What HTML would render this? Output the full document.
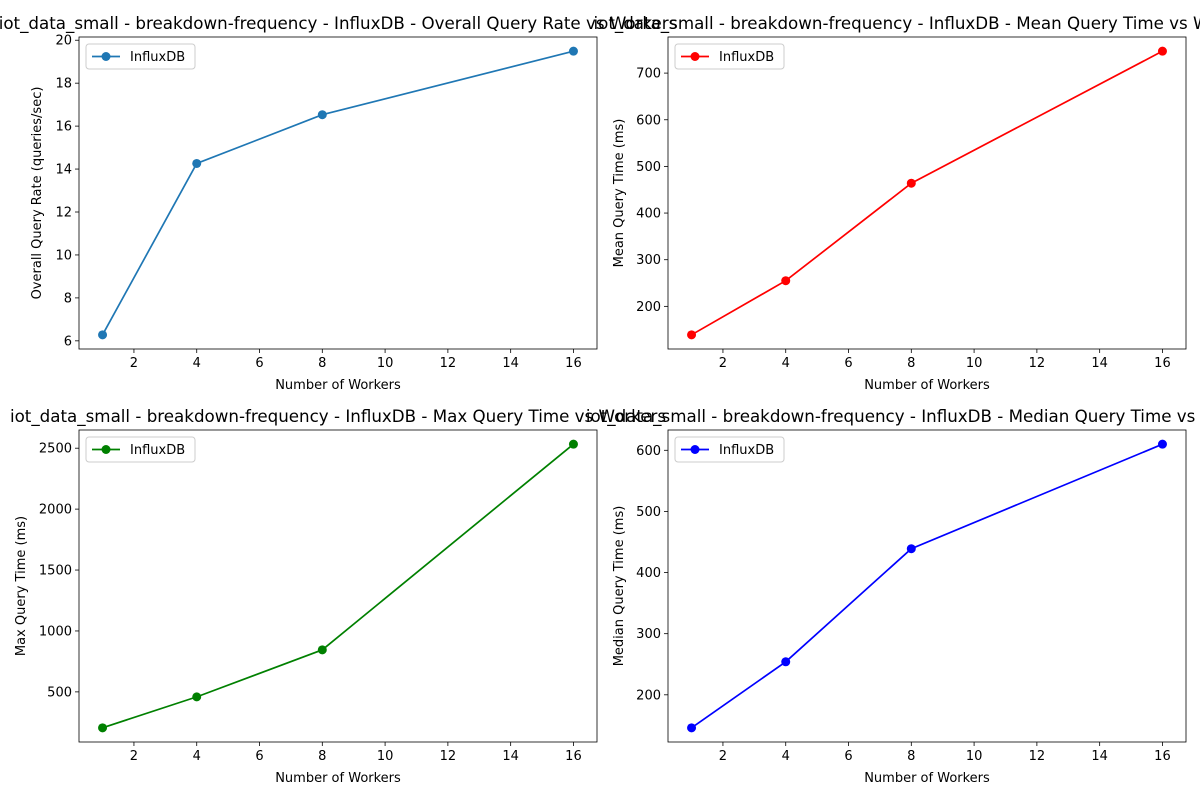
<!DOCTYPE html>
<html><head><meta charset="utf-8"><style>
body{margin:0;background:#fff}
svg{display:block;font-family:"DejaVu Sans","Liberation Sans",sans-serif}
</style></head><body>
<svg id="fig" width="1200" height="800" xmlns="http://www.w3.org/2000/svg"></svg>
<script>
const workers = [1, 4, 8, 16];
const overallRate = [6.28, 14.26, 16.53, 19.49];
const meanTime = [139, 255, 464, 747];
const maxTime = [205, 459, 845, 2533];
const medianTime = [146, 254, 439, 610];
const xTicks = [2, 4, 6, 8, 10, 12, 14, 16];
const ticksRate = [6, 8, 10, 12, 14, 16, 18, 20];
const ticksMean = [200, 300, 400, 500, 600, 700];
const ticksMax = [500, 1000, 1500, 2000, 2500];
const ticksMedian = [200, 300, 400, 500, 600];

const NS = "http://www.w3.org/2000/svg";
const fig = document.getElementById('fig');
function mk(tag, attrs, parent, text) {
  const e = document.createElementNS(NS, tag);
  for (const k in attrs) e.setAttribute(k, attrs[k]);
  if (text !== undefined) e.textContent = text;
  (parent || fig).appendChild(e);
  return e;
}
const panels = [
  {name:'overall-rate', l:79, t:37, vals:overallRate, ticks:ticksRate, color:'#1f77b4', yoff:38,
   title:'iot_data_small - breakdown-frequency - InfluxDB - Overall Query Rate vs Workers', ylabel:'Overall Query Rate (queries/sec)'},
  {name:'mean-time', l:668, t:37, vals:meanTime, ticks:ticksMean, color:'#ff0000', yoff:45,
   title:'iot_data_small - breakdown-frequency - InfluxDB - Mean Query Time vs Workers', ylabel:'Mean Query Time (ms)'},
  {name:'max-time', l:79, t:430, vals:maxTime, ticks:ticksMax, color:'#008000', yoff:54,
   title:'iot_data_small - breakdown-frequency - InfluxDB - Max Query Time vs Workers', ylabel:'Max Query Time (ms)'},
  {name:'median-time', l:668, t:430, vals:medianTime, ticks:ticksMedian, color:'#0000ff', yoff:45,
   title:'iot_data_small - breakdown-frequency - InfluxDB - Median Query Time vs Workers', ylabel:'Median Query Time (ms)'}
];
const W = 518, H = 312;
panels.forEach(p => {
  const g = mk('g', {});
  
  
  const xmin = Math.min(...workers), xmax = Math.max(...workers);
  const xr = xmax - xmin, x0 = xmin - 0.05*xr, x1 = xmax + 0.05*xr;
  const ymin = Math.min(...p.vals), ymax = Math.max(...p.vals);
  const yr = ymax - ymin, y0 = ymin - 0.05*yr, y1 = ymax + 0.05*yr;
  const sx = v => p.l + (v - x0)/(x1 - x0)*W;
  const sy = v => p.t + H - (v - y0)/(y1 - y0)*H;
  const title = mk('text', {x:p.l+W/2, y:p.t-8, 'text-anchor':'middle', 'font-size':16.7, fill:'#000'}, g, p.title);
  
  
  xTicks.forEach(v => {
    const x = sx(v);
    mk('line', {x1:x, x2:x, y1:p.t+H, y2:p.t+H+4, stroke:'#000', 'stroke-width':0.8}, g);
    const tl = mk('text', {x:x, y:p.t+H+18, 'text-anchor':'middle', 'font-size':13}, g, v);
    
    
  });
  p.ticks.forEach(v => {
    const y = sy(v);
    mk('line', {x1:p.l-4, x2:p.l, y1:y, y2:y, stroke:'#000', 'stroke-width':0.8}, g);
    const tl = mk('text', {x:p.l-7, y:y+4.5, 'text-anchor':'end', 'font-size':13}, g, v);
    
    
  });
  const xl = mk('text', {x:p.l+W/2, y:p.t+H+40, 'text-anchor':'middle', 'font-size':13}, g, 'Number of Workers');
  
  
  const yx = p.l - p.yoff;
  const yl = mk('text', {x:yx, y:p.t+H/2, 'text-anchor':'middle', 'font-size':13, transform:`rotate(-90 ${yx} ${p.t+H/2})`}, g, p.ylabel);
  
  
  const pts = workers.map((w,i) => sx(w)+','+sy(p.vals[i])).join(' ');
  const line = mk('polyline', {points:pts, fill:'none', stroke:p.color, 'stroke-width':1.7}, g);
  
  
  workers.forEach((w,i) => {
    const c = mk('circle', {cx:sx(w), cy:sy(p.vals[i]), r:4.5, fill:p.color}, g);
    
    
  });
  const frame = mk('rect', {x:p.l, y:p.t, width:W, height:H, fill:'none', stroke:'#000', 'stroke-width':0.8}, g);
  
  
  const lg = mk('g', {}, g);
  
  
  mk('rect', {x:p.l+7, y:p.t+7, width:109, height:25, rx:3, fill:'#fff', 'fill-opacity':0.8, stroke:'#ccc', 'stroke-width':1}, lg);
  mk('line', {x1:p.l+13, x2:p.l+41, y1:p.t+19.5, y2:p.t+19.5, stroke:p.color, 'stroke-width':1.7}, lg);
  mk('circle', {cx:p.l+27, cy:p.t+19.5, r:4.5, fill:p.color}, lg);
  mk('text', {x:p.l+51, y:p.t+24, 'font-size':13}, lg, 'InfluxDB');
});
</script>
</body></html>
